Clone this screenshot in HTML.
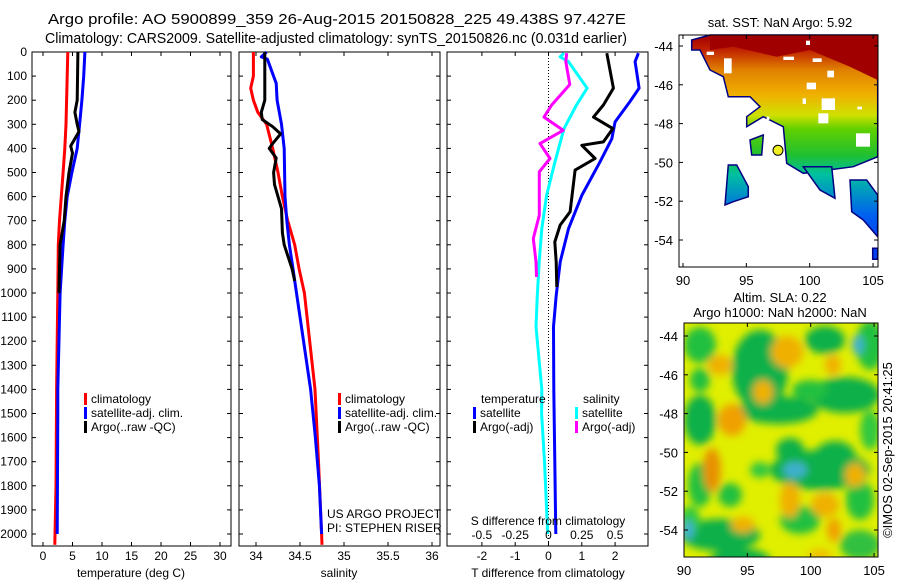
<!DOCTYPE html>
<html><head><meta charset="utf-8"><style>
html,body{margin:0;padding:0;background:#fff;}
svg{display:block;font-family:"Liberation Sans",sans-serif;}
</style></head><body>
<svg id="fig" width="900" height="580" viewBox="0 0 900 580">
<text x="48" y="24" font-size="15" textLength="578" lengthAdjust="spacingAndGlyphs">Argo profile: AO 5900899_359 26-Aug-2015 20150828_225 49.438S 97.427E</text>
<text x="45" y="43" font-size="15" textLength="582" lengthAdjust="spacingAndGlyphs">Climatology: CARS2009. Satellite-adjusted climatology: synTS_20150826.nc (0.031d earlier)</text>
<g id="p1"></g>
<g id="p2"></g>
<g id="p3"></g>
<g id="m1"></g>
<g id="m2"></g>
</svg>
<script>
// ---------- data ----------
const tClimDepth=[0,100,200,300,400,500,600,700,800,1000,1400,1800,2045];
const tClimVal=[4.2,4.1,4.0,3.9,3.7,3.4,3.1,2.8,2.6,2.5,2.3,2.2,2.0];
const tSatDepth=[0,100,200,300,400,500,600,700,800,1000,1400,1500,2000];
const tSatVal=[7.1,6.9,6.6,6.2,5.8,4.9,4.1,3.7,3.4,2.9,2.5,2.5,2.4];
const tArgoDepth=[0,200,250,300,330,390,420,500,600,700,800,1000];
const tArgoVal=[5.92,5.8,5.4,5.8,6.1,4.7,5.0,4.4,3.9,3.6,2.9,2.7];

const sClimDepth=[0,100,150,200,250,300,400,500,600,700,800,900,1000,1400,1700,2000,2045];
const sClimVal=[33.97,33.97,33.94,33.97,34.02,34.12,34.19,34.25,34.30,34.36,34.44,34.49,34.55,34.67,34.71,34.745,34.75];
const sSatDepth=[0,20,30,80,130,200,300,400,600,700,800,900,1000,1400,1600,1800,2000];
const sSatVal=[34.12,34.06,34.13,34.18,34.23,34.24,34.29,34.32,34.33,34.35,34.38,34.42,34.46,34.62,34.675,34.72,34.745];
const sArgoDepth=[0,200,250,280,310,340,380,400,440,500,550,600,650,750,800,900,950];
const sArgoVal=[34.10,34.10,34.06,34.07,34.19,34.28,34.19,34.15,34.23,34.20,34.21,34.25,34.29,34.30,34.32,34.41,34.44];

const dTSatDepth=[5,40,150,205,290,360,455,595,733,871,1010,1140,1400,2000];
const dTSatVal=[2.7,2.6,2.72,2.45,2.0,1.9,1.55,1.0,0.6,0.35,0.23,0.15,0.16,0.22];
const dTArgoDepth=[5,40,150,220,270,318,373,387,442,490,663,718,788,871,975];
const dTArgoVal=[1.75,1.8,1.95,1.65,1.35,1.93,1.65,1.0,1.4,0.8,0.65,0.35,0.19,0.23,0.25];
const dSSatDepth=[5,20,40,150,220,318,455,595,733,871,1010,1140,1400,1500,1700,2000];
const dSSatVal=[0.116,0.087,0.15,0.29,0.21,0.116,0.049,-0.014,-0.05,-0.07,-0.084,-0.094,-0.05,-0.052,-0.03,-0.006];
const dSArgoDepth=[5,40,135,220,270,325,380,442,497,677,774,871,933];
const dSArgoVal=[0.137,0.13,0.16,0.024,-0.034,0.11,-0.064,0.011,-0.069,-0.069,-0.114,-0.094,-0.09];

const depthTicks=[0,100,200,300,400,500,600,700,800,900,1000,1100,1200,1300,1400,1500,1600,1700,1800,1900,2000];
const tempTicks=[0,5,10,15,20,25,30];
const salTicks=[34,34.5,35,35.5,36];
const salTickLabels=["34","34.5","35","35.5","36"];
const dTTicks=[-2,-1,0,1,2];
const dSTicks=[-0.5,-0.25,0,0.25,0.5];
const dSTickLabels=["-0.5","-0.25","0","0.25","0.5"];
const latTicks=[-44,-46,-48,-50,-52,-54];
const lonTicks=[90,95,100,105];

// ---------- helpers ----------
const NS="http://www.w3.org/2000/svg";
function mk(parent,tag,attrs,txt){const e=document.createElementNS(NS,tag);for(const k in attrs)e.setAttribute(k,attrs[k]);if(txt!==undefined)e.textContent=txt;parent.appendChild(e);return e;}
const TOP=52,BOT=546;
const yD=d=>TOP+d*0.241;
const xT=t=>43+t*5.9;
const xS=s=>256+(s-34)*88;
const xdT=t=>548.5+t*33.3;
const xdS=s=>548.5+s*133.2;

function frame(g,x0,x1){
  const r=mk(g,'rect',{x:x0,y:TOP,width:x1-x0,height:BOT-TOP,fill:'none',stroke:'#000','stroke-width':1});
  
  
  depthTicks.forEach(d=>{
    const y=yD(d);
    mk(g,'line',{x1:x0,x2:x0+4,y1:y,y2:y,stroke:'#000'});
    mk(g,'line',{x1:x1,x2:x1-4,y1:y,y2:y,stroke:'#000'});
  });
}
function xticks(g,scale,vals,labels,yLab){
  vals.forEach((v,i)=>{
    const x=scale(v);
    mk(g,'line',{x1:x,x2:x,y1:BOT,y2:BOT-4,stroke:'#000'});
    mk(g,'line',{x1:x,x2:x,y1:TOP,y2:TOP+4,stroke:'#000'});
    if(labels){const t=mk(g,'text',{x:x,y:yLab,'font-size':12,'text-anchor':'middle'},labels[i]);
      
      }
  });
}
function series(g,depths,vals,scale,color,name,w){
  const pts=depths.map((d,i)=>scale(vals[i]).toFixed(1)+','+yD(d).toFixed(1)).join(' ');
  const p=mk(g,'polyline',{points:pts,fill:'none',stroke:color,'stroke-width':w||3,'stroke-linejoin':'round'});
  
  
}
function legendRow(g,x,y,color,label){
  mk(g,'rect',{x:x,y:y-6,width:3,height:12,fill:color});
  const t=mk(g,'text',{x:x+7,y:y+4,'font-size':12},label);
  
  
}

// ---------- panel 1 ----------
const p1=document.getElementById('p1');
frame(p1,32,231);
depthTicks.forEach(d=>{const t=mk(p1,'text',{x:27,y:yD(d)+4,'font-size':12,'text-anchor':'end'},String(d));
  
  });
xticks(p1,xT,tempTicks,tempTicks.map(String),560);
series(p1,tClimDepth,tClimVal,xT,'#ff0000','temp-climatology-line');
series(p1,tSatDepth,tSatVal,xT,'#0000ff','temp-satellite-line');
series(p1,tArgoDepth,tArgoVal,xT,'#000000','temp-argo-line');
legendRow(p1,84,399,'#ff0000','climatology');
legendRow(p1,84,413,'#0000ff','satellite-adj. clim.');
legendRow(p1,84,427,'#000000','Argo(..raw -QC)');
mk(p1,'text',{x:131,y:577,'font-size':12,'text-anchor':'middle'},'temperature (deg C)');

// ---------- panel 2 ----------
const p2=document.getElementById('p2');
frame(p2,239,440);
xticks(p2,xS,salTicks,salTickLabels,560);
series(p2,sClimDepth,sClimVal,xS,'#ff0000','sal-climatology-line');
series(p2,sSatDepth,sSatVal,xS,'#0000ff','sal-satellite-line');
series(p2,sArgoDepth,sArgoVal,xS,'#000000','sal-argo-line');
legendRow(p2,338,399,'#ff0000','climatology');
legendRow(p2,338,413,'#0000ff','satellite-adj. clim.');
legendRow(p2,338,427,'#000000','Argo(..raw -QC)');
mk(p2,'text',{x:327,y:518,'font-size':12},'US ARGO PROJECT');
mk(p2,'text',{x:327,y:532,'font-size':12},'PI: STEPHEN RISER');
mk(p2,'text',{x:339,y:577,'font-size':12,'text-anchor':'middle'},'salinity');

// ---------- panel 3 ----------
const p3=document.getElementById('p3');
frame(p3,447,648);
xticks(p3,xdT,dTTicks,dTTicks.map(String),560);
mk(p3,'line',{x1:548.5,x2:548.5,y1:TOP,y2:BOT,stroke:'#000','stroke-dasharray':'1,2'});
series(p3,dTSatDepth,dTSatVal,xdT,'#0000ff','dT-satellite-line');
series(p3,dTArgoDepth,dTArgoVal,xdT,'#000000','dT-argo-line');
series(p3,dSSatDepth,dSSatVal,xdS,'#00ffff','dS-satellite-line');
series(p3,dSArgoDepth,dSArgoVal,xdS,'#ff00ff','dS-argo-line');
mk(p3,'text',{x:481,y:403,'font-size':12},'temperature');
mk(p3,'text',{x:583,y:403,'font-size':12},'salinity');
legendRow(p3,473,413,'#0000ff','satellite');
legendRow(p3,473,427,'#000000','Argo(-adj)');
legendRow(p3,575,413,'#00ffff','satellite');
legendRow(p3,575,427,'#ff00ff','Argo(-adj)');
mk(p3,'text',{x:548,y:525,'font-size':12,'text-anchor':'middle'},'S difference from climatology');
dSTicks.forEach((v,i)=>mk(p3,'text',{x:xdS(v),y:539,'font-size':12,'text-anchor':'middle'},dSTickLabels[i]));
mk(p3,'text',{x:548,y:577,'font-size':12,'text-anchor':'middle'},'T difference from climatology');

// ---------- maps ----------
function mapAxes(g,x0,x1,y0,y1,latY,lonX){
  mk(g,'rect',{x:x0,y:y0,width:x1-x0,height:y1-y0,fill:'none',stroke:'#000'});
  latTicks.forEach(l=>{const y=latY(l);
    mk(g,'line',{x1:x0,x2:x0+4,y1:y,y2:y,stroke:'#000'});mk(g,'line',{x1:x1,x2:x1-4,y1:y,y2:y,stroke:'#000'});
    mk(g,'text',{x:x0-6,y:y+5,'font-size':13,'text-anchor':'end'},String(l));});
  lonTicks.forEach(l=>{const x=lonX(l);
    mk(g,'line',{x1:x,x2:x,y1:y1,y2:y1-4,stroke:'#000'});mk(g,'line',{x1:x,x2:x,y1:y0,y2:y0+4,stroke:'#000'});
    mk(g,'text',{x:x,y:y1+18,'font-size':13,'text-anchor':'middle'},String(l));});
}
// top map
const m1=document.getElementById('m1');
const Z=(px,py)=>(650+px/3).toFixed(1)+','+(py/3).toFixed(1);
const defs=mk(document.getElementById('fig'),'defs',{});
const lg=mk(defs,'linearGradient',{id:'sstg',gradientUnits:'userSpaceOnUse',x1:0,y1:35,x2:0,y2:240});
[[0,'#a00000'],[0.07,'#c02000'],[0.17,'#e08000'],[0.29,'#f0b000'],[0.39,'#d0e000'],[0.46,'#60d000'],[0.585,'#20c030'],[0.68,'#00c0a0'],[0.88,'#0060f0'],[1,'#0040f0']].forEach(s=>mk(lg,'stop',{offset:s[0],'stop-color':s[1]}));
const sstPolys=[
 [[125,120],[180,105],[683,105],[683,470],[610,500],[460,520],[410,490],[400,380],[340,350],[290,380],[290,350],[330,320],[300,290],[235,290],[220,230],[180,210],[150,150],[125,150]],
 [[300,420],[340,405],[335,465],[305,465]],
 [[235,495],[260,495],[295,560],[295,590],[250,605],[225,615]],
 [[600,540],[650,540],[683,585],[683,710],[640,660],[605,635]],
 [[460,500],[545,500],[555,595],[510,570]],
 [[668,745],[683,745],[683,778],[668,778]]
];
sstPolys.forEach(p=>mk(m1,'polygon',{points:p.map(q=>Z(q[0],q[1])).join(' '),fill:'url(#sstg)',stroke:'#000080','stroke-width':1.5}));
mk(m1,'polygon',{points:[[180,105],[683,105],[683,240],[600,200],[480,150],[380,170],[250,140],[180,150]].map(q=>Z(q[0],q[1])).join(' '),fill:'#a00000'});
[[[170,155],[192,165]],[[222,175],[245,220]],[[400,170],[432,180]],[[488,175],[515,186]],[[532,212],[552,232]],[[470,248],[498,268]],[[515,295],[555,330]],[[505,340],[535,370]],[[458,295],[468,312]],[[622,320],[636,328]],[[618,400],[660,440]],[[350,350],[358,360]],[[468,122],[480,135]]].forEach(h=>{
 mk(m1,'rect',{x:650+h[0][0]/3,y:h[0][1]/3,width:(h[1][0]-h[0][0])/3,height:(h[1][1]-h[0][1])/3,fill:'#fff'});});
const dot=mk(m1,'circle',{cx:778,cy:150.3,r:5,fill:'#f0f020',stroke:'#000'});


mapAxes(m1,679,878,35,267,l=>46+(-44-l)*19.4,l=>683+(l-90)*12.67);
mk(m1,'text',{x:780,y:27,'font-size':13,'text-anchor':'middle'},'sat. SST: NaN Argo: 5.92');

// bottom map
const m2=document.getElementById('m2');
const flt=mk(defs,'filter',{id:'blur',x:'-20%',y:'-20%',width:'140%',height:'140%'});
mk(flt,'feGaussianBlur',{stdDeviation:4});
const cp=mk(defs,'clipPath',{id:'m2clip'});
mk(cp,'rect',{x:684,y:323,width:194,height:234});
mk(m2,'rect',{x:684,y:323,width:194,height:234,fill:'#e0ee00'});
const gb=mk(m2,'g',{filter:'url(#blur)','clip-path':'url(#m2clip)'});
const blobs=[
 ['#20c040',700,345,16,18],['#10b048',760,370,28,40],['#10b048',825,340,20,14],['#10b048',845,395,35,18],['#20c040',870,345,14,25],
 ['#10b048',778,410,40,14],['#10b048',700,420,16,25],['#20c040',700,485,12,22],['#10b048',820,470,50,20],['#10b048',835,455,20,14],
 ['#20c040',730,495,12,12],['#10b048',720,535,40,16],['#20c040',800,520,20,14],['#20c040',860,500,14,20],['#10b048',740,560,30,12],
 ['#30c040',860,545,20,15],['#10b048',790,450,14,12],['#20c040',810,390,18,10],['#20c040',700,380,10,12],['#30c840',870,430,10,20],
 ['#30c840',760,470,10,8],['#30c840',690,520,10,14]];
blobs.forEach(b=>mk(gb,'ellipse',{fill:b[0],cx:b[1],cy:b[2],rx:b[3],ry:b[4]}));
const oblobs=[['#f0a000',732,420,14,16],['#e89000',712,470,9,22],['#f0b000',787,352,16,16],['#f0b000',763,392,10,12],['#f0b000',833,365,8,10],
 ['#f0b000',855,475,10,12],['#f0b000',790,500,10,18],['#f0b000',825,505,14,12],['#f0b000',720,365,12,10],['#f0a000',834,530,7,12],['#f0b000',743,525,12,8],['#f0c000',820,555,12,6]];
oblobs.forEach(b=>mk(gb,'ellipse',{fill:b[0],cx:b[1],cy:b[2],rx:b[3],ry:b[4]}));
[['#40b0d0',858,345,6,10],['#40b0d0',795,470,12,8],['#40b0d0',688,530,6,10]].forEach(b=>mk(gb,'ellipse',{fill:b[0],cx:b[1],cy:b[2],rx:b[3],ry:b[4]}));
mapAxes(m2,684,878,323,557,l=>336+(-44-l)*19.4,l=>684+(l-90)*12.67);
mk(m2,'text',{x:780,y:302,'font-size':13,'text-anchor':'middle'},'Altim. SLA: 0.22');
mk(m2,'text',{x:780,y:317,'font-size':13,'text-anchor':'middle'},'Argo h1000: NaN h2000: NaN');
mk(m2,'text',{x:0,y:0,'font-size':13,'text-anchor':'middle',transform:'translate(892,450) rotate(-90)'},'©IMOS 02-Sep-2015 20:41:25');
</script>
</body></html>
